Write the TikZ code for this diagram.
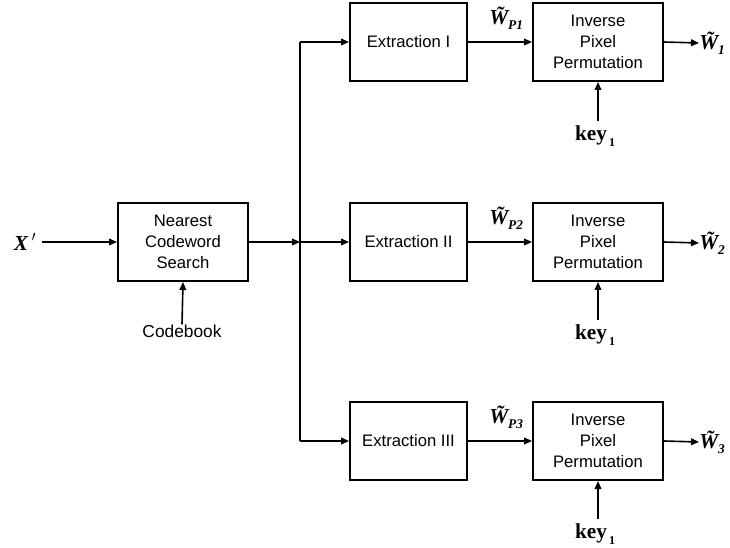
\documentclass[tikz,border=0pt]{standalone}
\usepackage{fontspec}
\setmainfont{Liberation Sans}
\newfontfamily\tnr{Liberation Serif}
\usetikzlibrary{arrows.meta}
\tikzset{
  blk/.style={draw, line width=1.5pt, inner sep=0pt, align=center, font=\fontsize{12.5}{15.5}\selectfont},
  conn/.style={line width=1.2pt, -{Triangle[length=6pt,width=5pt]}},
  wire/.style={line width=0.8pt},
  sym/.style={inner sep=0pt, font=\tnr\bfseries\itshape\fontsize{16}{18}\selectfont},
  keylbl/.style={inner sep=0pt, font=\tnr\bfseries\fontsize{16}{18}\selectfont},
  lbl/.style={inner sep=0pt, font=\fontsize{13}{15.5}\selectfont}
}
\newcommand{\wt}[1]{\~{W}\raisebox{-0.45ex}{\fontsize{10}{10}\selectfont #1}}
\newcommand{\keyone}{key\raisebox{-0.6ex}{\fontsize{9}{9}\selectfont\,1}}
\begin{document}
\begin{tikzpicture}[x=0.75pt,y=-0.75pt]
\useasboundingbox (0,0) rectangle (730,548);
% input and codebook search
\node[sym] (x) at (25,242) {X\,$'$};
\node[blk, minimum width=97.5pt, minimum height=58.5pt] (ncs) at (183,242) {Nearest\\Codeword\\Search};
\node[lbl] (cb) at (182,331) {Codebook};
\draw[conn] (x.east) ++(4pt,0) -- (ncs.west);
\draw[conn] (cb.north) -- (ncs.south);
\coordinate (split) at (300,242);
\coordinate (s1) at (300,42);
\coordinate (s3) at (300,441);
\draw[conn] (ncs.east) -- (split);
\draw[wire] (s1) -- (s3);
% three extraction branches
\foreach \i/\y/\name/\ky in {1/42/I/136, 2/242/II/335, 3/441/III/534} {
  \node[blk, minimum width=87.75pt, minimum height=58.5pt] (ex\i) at (408.5,\y) {Extraction \name};
  \node[blk, minimum width=97.5pt, minimum height=58.5pt] (ip\i) at (598,\y) {Inverse\\Pixel\\Permutation};
  \node[sym, anchor=west] (wp\i) at (489,\y-24) {\wt{P\i}};
  \node[sym, anchor=west] (wo\i) at (699,\y+1) {\wt{\i}};
  \node[keylbl] (k\i) at (595,\ky) {\keyone};
  \draw[conn] (300,\y) -- (ex\i.west);
  \draw[conn] (ex\i.east) -- (ip\i.west);
  \draw[conn] (ip\i.east) -- (wo\i.west);
  \draw[conn] (598,\ky-15) -- (ip\i.south);
}
\end{tikzpicture}
\end{document}
